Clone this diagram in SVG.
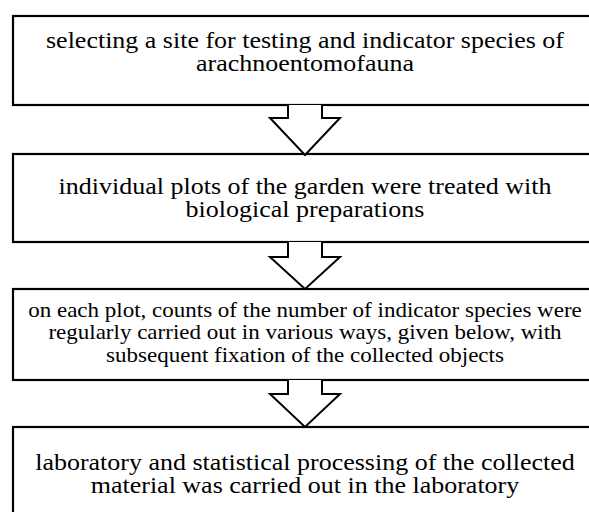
<svg xmlns="http://www.w3.org/2000/svg" width="589" height="512" viewBox="0 0 589 512">
<style>
.box{fill:#fff;stroke:#000;stroke-width:2.2}
.arr{fill:#fff;stroke:#000;stroke-width:2;stroke-linejoin:miter}
text{font-family:"Liberation Serif","Times New Roman",serif;font-size:23px;fill:#000;text-anchor:middle}
.sm{font-size:20px}
</style>
<rect width="589" height="512" fill="#fff"/>
<g id="node1">
<rect class="box" x="13" y="16" width="590" height="89"/>
<g transform="translate(305,0) scale(1.13,1)">
<text x="0" y="48">selecting a site for testing and indicator species of</text>
<text x="0" y="71">arachnoentomofauna</text>
</g>
</g>
<g id="node2">
<rect class="box" x="13" y="154" width="590" height="88"/>
<g transform="translate(305,0) scale(1.13,1)">
<text x="0" y="194">individual plots of the garden were treated with</text>
<text x="0" y="217">biological preparations</text>
</g>
</g>
<g id="node3">
<rect class="box" x="13" y="289" width="590" height="91"/>
<g transform="translate(305,0) scale(1.15,1)">
<text class="sm" x="0" y="317">on each plot, counts of the number of indicator species were</text>
<text class="sm" x="0" y="339.5">regularly carried out in various ways, given below, with</text>
<text class="sm" x="0" y="362">subsequent fixation of the collected objects</text>
</g>
</g>
<g id="node4">
<rect class="box" x="13" y="427" width="590" height="100"/>
<g transform="translate(305,0) scale(1.13,1)">
<text x="0" y="470">laboratory and statistical processing of the collected</text>
<text x="0" y="493">material was carried out in the laboratory</text>
</g>
</g>
<g id="connectors">
<path class="arr" d="M288,105 V118 H270 L305,155 L340,118 H322 V105"/>
<path class="arr" d="M288,242 V257 H270 L305,289 L340,257 H322 V242"/>
<path class="arr" d="M288,380 V394 H270 L305,427 L340,394 H322 V380"/>
</g>
</svg>
